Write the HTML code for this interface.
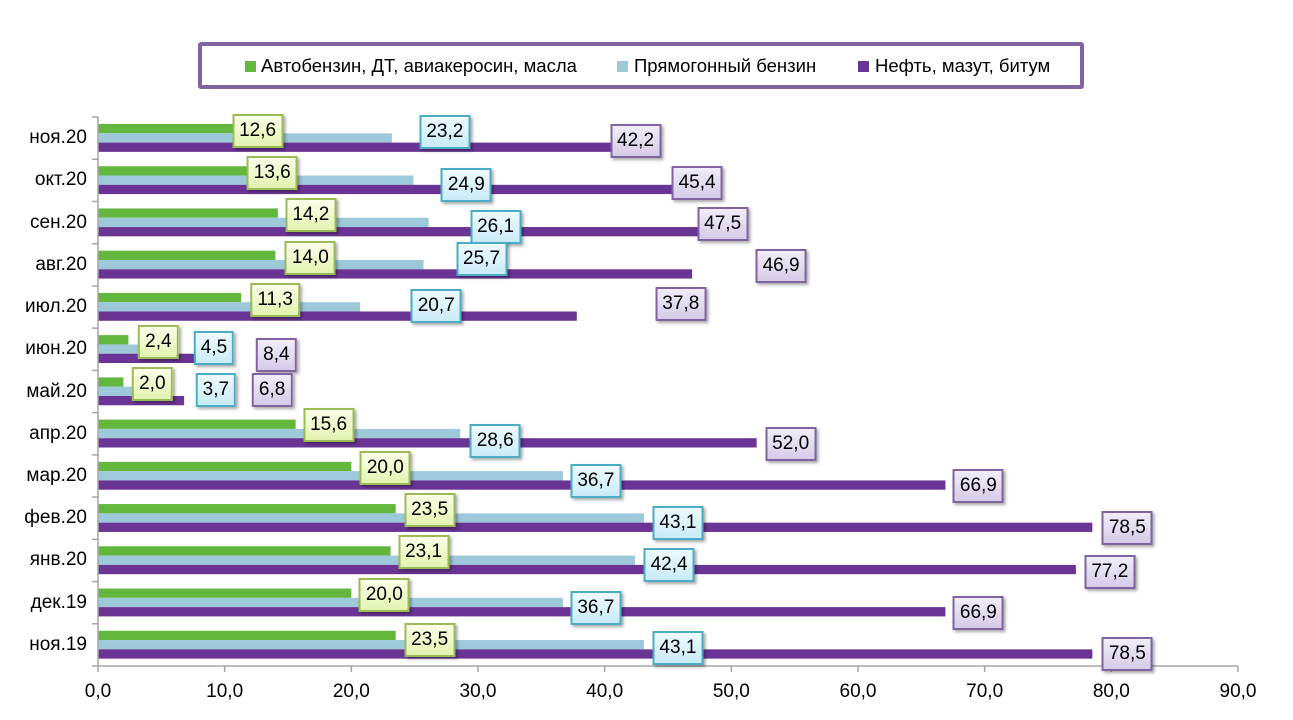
<!DOCTYPE html>
<html><head><meta charset="utf-8">
<style>
body{margin:0;background:#fff;font-family:"Liberation Sans",sans-serif;}
#wrap{position:relative;width:1293px;height:720px;overflow:hidden;}
.lbl{position:absolute;height:30px;line-height:30px;font-size:19px;padding:0 5px;transform:translate(-50%,-50%);box-shadow:2px 2px 3px rgba(0,0,0,0.35);white-space:nowrap;color:#000;}
.lg{background:linear-gradient(#fbffe8,#e2f3b0);border:2px solid #9bbb59;}
.lb{background:linear-gradient(#eefaff,#c9ebf8);border:2px solid #4bacc6;}
.lp{background:linear-gradient(#f1edf8,#d6cbe8);border:2px solid #8064a2;}
.cat{position:absolute;font-size:19px;right:1206px;transform:translateY(-50%);}
.tick{position:absolute;font-size:19px;top:681px;transform:translateX(-50%);}
</style></head><body>
<div id="wrap">
<div style="position:absolute;left:198px;top:42px;width:878px;height:39px;border:4px solid #8064a2;border-radius:3px;font-size:18.5px;">
 <div style="position:absolute;left:43px;top:9px;"><span style="display:inline-block;width:11px;height:11px;background:#62b73c;margin-right:5px;"></span>Автобензин, ДТ, авиакеросин, масла</div>
 <div style="position:absolute;left:415px;top:9px;"><span style="display:inline-block;width:11px;height:11px;background:#9dc9da;margin-right:6px;"></span>Прямогонный бензин</div>
 <div style="position:absolute;left:656px;top:9px;"><span style="display:inline-block;width:11px;height:11px;background:#6a3494;margin-right:6px;"></span>Нефть, мазут, битум</div>
</div>
<svg id="plot" width="1293" height="720" style="position:absolute;left:0;top:0"></svg>
</div>
<script>
const categories=["ноя.20","окт.20","сен.20","авг.20","июл.20","июн.20","май.20","апр.20","мар.20","фев.20","янв.20","дек.19","ноя.19"];
const greenVals=[12.6,13.6,14.2,14.0,11.3,2.4,2.0,15.6,20.0,23.5,23.1,20.0,23.5];
const blueVals=[23.2,24.9,26.1,25.7,20.7,4.5,3.7,28.6,36.7,43.1,42.4,36.7,43.1];
const purpleVals=[42.2,45.4,47.5,46.9,37.8,8.4,6.8,52.0,66.9,78.5,77.2,66.9,78.5];
const tickVals=[0,10,20,30,40,50,60,70,80,90];
// label offsets (px) relative to bar end / row top
const gOff=[[0,14],[2,14],[33,14],[35,14],[34,14],[30,14],[29,14],[33,12],[34,13],[34,13],[33,13],[33,13],[34,16]];
const bOff=[[53,15],[53,26],[67,26],[58,15],[76,20],[59,20],[71,20],[35,28],[33,26],[34,26],[34,26],[33,26],[34,24]];
const pOff=[[3,24],[24,24],[23,23],[89,22],[104,18],[72,27],[88,20],[34,31],[33,31],[35,31],[34,33],[33,31],[35,30]];
const X0=98,X1=1238,Y0=117,Y1=666;
const xs=v=>X0+(X1-X0)*v/90;
const rowH=(Y1-Y0)/categories.length;
const ns="http://www.w3.org/2000/svg";
const svg=document.getElementById('plot');
const wrap=document.getElementById('wrap');
function rect(x,y,w,h,f){const r=document.createElementNS(ns,'rect');r.setAttribute('x',x);r.setAttribute('y',y);r.setAttribute('width',w);r.setAttribute('height',h);r.setAttribute('fill',f);svg.appendChild(r);return r;}
function line(x1,y1,x2,y2){const l=document.createElementNS(ns,'line');l.setAttribute('x1',x1);l.setAttribute('y1',y1);l.setAttribute('x2',x2);l.setAttribute('y2',y2);l.setAttribute('stroke','#a6a6a6');l.setAttribute('stroke-width','1.5');svg.appendChild(l);return l;}
const fmt=v=>v.toFixed(1).replace('.',',');
const bh=rowH*0.22, bo=7;
const series=[[greenVals,'#62b73c','lg',gOff,'green'],[blueVals,'#9dc9da','lb',bOff,'blue'],[purpleVals,'#6a3494','lp',pOff,'purple']];
categories.forEach((c,i)=>{
  const top=Y0+i*rowH;
  series.forEach((s,k)=>{
    const v=s[0][i];
    const r=rect(X0,top+bo+k*bh,xs(v)-X0,bh,s[1]);
    
    
  });
  const t=document.createElement('div');t.className='cat';t.style.top=(top+rowH/2)+'px';t.textContent=c;
  
  
  wrap.appendChild(t);
});
categories.forEach((c,i)=>{
  const top=Y0+i*rowH;
  series.forEach((s,k)=>{
    const v=s[0][i];
    const d=document.createElement('div');d.className='lbl '+s[2];
    d.style.left=(xs(v)+s[3][i][0])+'px';d.style.top=(top+s[3][i][1])+'px';d.textContent=fmt(v);
    
    
    wrap.appendChild(d);
  });
});
const ya=line(X0,Y0,X0,Y1);
for(let i=0;i<=categories.length;i++){line(X0-6,Y0+i*rowH,X0,Y0+i*rowH);}
const xa=line(X0,Y1,X1,Y1);
tickVals.forEach(v=>{
  line(xs(v),Y1,xs(v),Y1+6);
  const t=document.createElement('div');t.className='tick';t.style.left=xs(v)+'px';t.textContent=fmt(v);
  
  
  wrap.appendChild(t);
});
</script>
</body></html>
